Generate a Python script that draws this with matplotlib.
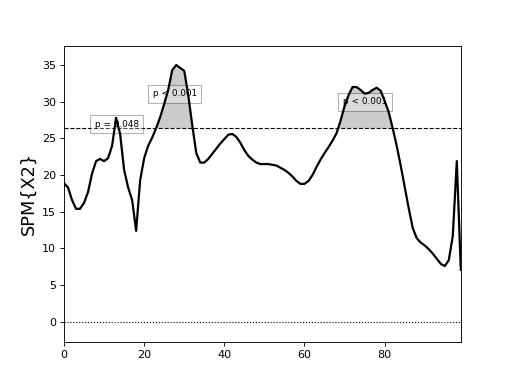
import numpy as np
import matplotlib
matplotlib.use("Agg")
import matplotlib.pyplot as plt

# SPM{X2} curve, one value per node (0..99)
z = [18.9, 18.3, 16.6, 15.4, 15.4, 16.2, 17.7, 20.2, 21.9, 22.2,
     21.9, 22.3, 24.0, 27.8, 25.6, 20.7, 18.3, 16.6, 12.4, 19.3,
     22.3, 24.0, 25.1, 26.4, 27.9, 29.7, 31.6, 34.3, 35.0, 34.6,
     34.2, 30.9, 26.8, 23.0, 21.7, 21.7, 22.2, 22.9, 23.6, 24.3,
     24.9, 25.5, 25.6, 25.2, 24.4, 23.4, 22.6, 22.1, 21.7, 21.5,
     21.5, 21.5, 21.4, 21.3, 21.0, 20.7, 20.3, 19.8, 19.2, 18.8,
     18.8, 19.2, 20.0, 21.1, 22.1, 23.0, 23.8, 24.7, 25.7, 27.4,
     29.4, 30.9, 32.0, 32.0, 31.6, 31.1, 31.2, 31.6, 31.9, 31.5,
     30.1, 28.6, 26.4, 24.0, 21.3, 18.4, 15.5, 12.8, 11.4, 10.8,
     10.4, 9.9, 9.3, 8.6, 7.9, 7.6, 8.4, 11.7, 21.9, 7.1]
zstar = 26.4

# cluster p-values and where their labels sit
p_labels = ["p = 0.048", "p < 0.001", "p < 0.001"]
p_x = [13.2, 27.6, 75.1]
p_y = [26.9, 31.1, 30.0]

z = np.array(z)
x = np.arange(len(z))

fig, ax = plt.subplots(figsize=(6.4, 4.8), dpi=80)

ax.plot(x, z, color='k', lw=2, zorder=3)
ax.axhline(0, color='k', ls=':', lw=1)
ax.axhline(zstar, color='k', ls='--', lw=1)
ax.fill_between(x, z, zstar, where=z >= zstar, interpolate=True,
                facecolor='0.8', edgecolor='none', zorder=1)

for s, tx, ty in zip(p_labels, p_x, p_y):
    ax.text(tx, ty, s, ha='center', va='center', size=8, zorder=2,
            bbox=dict(facecolor='w', edgecolor='k', alpha=0.3))

ax.set_xlim(0, 99)
ax.set_ylim(-2.72, 37.58)
ax.set_xticks([0, 20, 40, 60, 80])
ax.set_ylabel('SPM{X2}', size=16)

fig.savefig('out.png', dpi=80)
